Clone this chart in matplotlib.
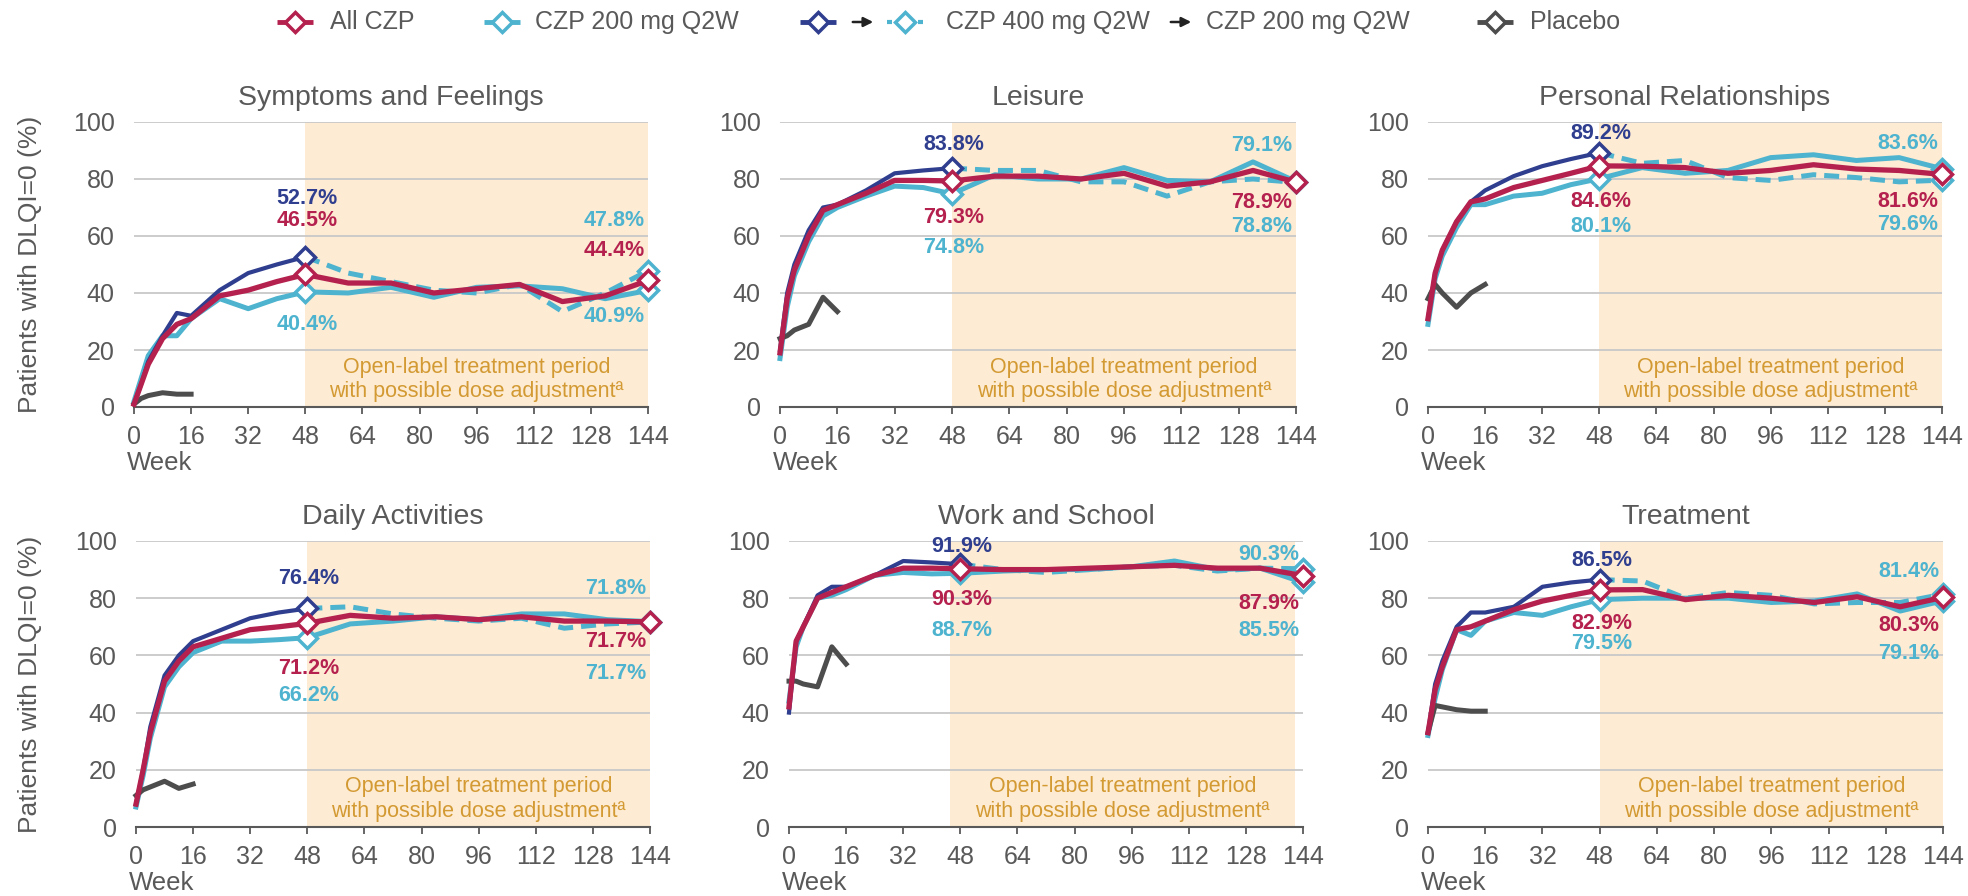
import matplotlib
matplotlib.use("Agg")
import matplotlib.pyplot as plt

plt.rcParams['font.family'] = ['Liberation Sans', 'DejaVu Sans']

# ---------------- data ----------------
db_weeks = [0, 2, 4, 8, 12, 16, 24, 32, 40, 48]
ol_weeks = [48, 60, 72, 84, 96, 108, 120, 132, 144]
pbo_weeks = [0, 2, 4, 8, 12, 16]
all_weeks = db_weeks + ol_weeks[1:]
xticks = [0, 16, 32, 48, 64, 80, 96, 112, 128, 144]
yticks = [0, 20, 40, 60, 80, 100]

titles = ["Symptoms and Feelings", "Leisure", "Personal Relationships",
          "Daily Activities", "Work and School", "Treatment"]

# Symptoms and Feelings
sf_all_czp = [1, 8, 15, 24, 29, 31, 39, 41, 44, 46.5, 43.5, 43.5, 40, 41.5, 43, 37, 39, 44.4]
sf_czp200 = [2, 10, 18, 25, 25, 31, 38, 34.5, 38, 40.4, 40, 42, 38.5, 42, 42.5, 41.5, 38, 40.9]
sf_czp400_db = [1, 8, 16, 25, 33, 32, 41, 47, 50, 52.7]
sf_czp400_ol = [52.7, 47, 44, 41, 40, 43, 33.5, 40, 47.8]
sf_placebo = [1, 3, 4, 5, 4.5, 4.5]

# Leisure
le_all_czp = [19, 38, 48, 60, 69, 71, 75, 79.5, 79.5, 79.3, 81, 81, 80, 82, 77.5, 79, 83, 78.9]
le_czp200 = [17, 35, 46, 58, 67, 70, 74, 77.5, 77, 74.8, 81.5, 80, 80, 84, 79.5, 79, 86, 79.1]
le_czp400_db = [20, 40, 50, 62, 70, 71, 76, 82, 83, 83.8]
le_czp400_ol = [83.8, 83, 83, 79, 79, 74, 79, 80, 78.8]
le_placebo = [24, 25, 27, 29, 38.5, 33.5]

# Personal Relationships
pr_all_czp = [31, 47, 55, 65, 72, 73, 77, 79.5, 82, 84.6, 84.5, 84, 82, 83, 85, 83.5, 83, 81.6]
pr_czp200 = [29, 45, 53, 63, 71, 71, 74, 75, 78, 80.1, 84, 82, 83, 87.5, 88.5, 86.5, 87.5, 83.6]
pr_czp400_db = [31, 47, 55, 65, 72, 76, 81, 84.5, 87, 89.2]
pr_czp400_ol = [89.2, 85.5, 86.5, 80.5, 79.5, 81.5, 80.5, 79, 79.6]
pr_placebo = [38, 43, 40, 35, 40, 43]

# Daily Activities
da_all_czp = [8, 20, 33, 51, 58, 63, 66, 69, 70, 71.2, 74, 73, 73.5, 72.5, 73.5, 72, 72, 71.7]
da_czp200 = [7, 18, 31, 49, 56, 61, 65, 65, 65.5, 66.2, 71, 72, 73.5, 72.5, 74.5, 74.5, 72.5, 71.8]
da_czp400_db = [8, 20, 35, 53, 60, 65, 69, 73, 75, 76.4]
da_czp400_ol = [76.4, 77, 74.5, 73, 72, 73, 69.5, 71, 71.7]
da_placebo = [11, 13, 14, 16, 13.5, 15]

# Work and School
ws_all_czp = [42, 65, 70, 80, 82, 84, 88, 90.5, 90.5, 90.3, 90, 90, 90.5, 91, 91.5, 90.5, 90.5, 87.9]
ws_czp200 = [44, 63, 70, 80, 81, 83, 88, 89, 88.5, 88.7, 89.5, 90, 90, 91, 93, 90, 90.5, 85.5]
ws_czp400_db = [40, 65, 70, 81, 84, 84, 88, 93, 92.5, 91.9]
ws_czp400_ol = [91.9, 90, 89, 90, 91, 91.5, 89.5, 90.5, 90.3]
ws_placebo = [51, 51, 50, 49, 63, 57]

# Treatment
tr_all_czp = [33, 48, 56, 69, 70, 72, 76, 79, 81, 82.9, 83, 79.5, 81, 80, 78.5, 80.5, 77, 80.3]
tr_czp200 = [32, 45, 55, 69, 67, 72, 75, 74, 77, 79.5, 80, 80, 80, 78.5, 79, 81.5, 75.5, 79.1]
tr_czp400_db = [33, 50, 58, 70, 75, 75, 77, 84, 85.5, 86.5]
tr_czp400_ol = [86.5, 86, 80, 82, 81, 78, 78.5, 78.5, 81.4]
tr_placebo = [33, 42.5, 42, 41, 40.5, 40.5]

panels = [
    (sf_all_czp, sf_czp200, sf_czp400_db, sf_czp400_ol, sf_placebo),
    (le_all_czp, le_czp200, le_czp400_db, le_czp400_ol, le_placebo),
    (pr_all_czp, pr_czp200, pr_czp400_db, pr_czp400_ol, pr_placebo),
    (da_all_czp, da_czp200, da_czp400_db, da_czp400_ol, da_placebo),
    (ws_all_czp, ws_czp200, ws_czp400_db, ws_czp400_ol, ws_placebo),
    (tr_all_czp, tr_czp200, tr_czp400_db, tr_czp400_ol, tr_placebo),
]

# ---------------- style / layout ----------------
RED = '#B5214E'
CYAN = '#4DB3CE'
NAVY = '#2F3E8E'
GRAY = '#4D4D4D'
SHADE = '#FDEBD3'
SHADE_TXT = '#D39A33'
TXT = '#595959'

W, H = 1968, 896
axes_px = [  # left(px of week 0), right(px of week 144), top(px of 100), bottom(px of 0)
    (134, 648, 122, 407), (780, 1296, 122, 407), (1428, 1942, 122, 407),
    (136, 650, 541, 827), (789, 1303, 541, 827), (1428, 1943, 541, 827),
]
shade_spans = [(48, 144), (48, 144), (48, 144), (48, 144), (45.2, 141.8), (48, 144)]

# label y positions (data units) for labels at week 48 and week 144
left_labels = [
    [('navy', 73), ('red', 65.5), ('cyan', 29)],
    [('navy', 92), ('red', 66.5), ('cyan', 56)],
    [('navy', 96), ('red', 72), ('cyan', 63.5)],
    [('navy', 86.8), ('red', 55.4), ('cyan', 46)],
    [('navy', 98), ('red', 79.5), ('cyan', 68.8)],
    [('navy', 93.2), ('red', 71.3), ('cyan', 64.3)],
]
right_labels = [
    [('dash', 65.6), ('red', 55), ('cyan', 31.6)],
    [('cyan', 91.7), ('red', 71.7), ('dash', 63.5)],
    [('cyan', 92.6), ('red', 72), ('dash', 64)],
    [('cyan', 83.3), ('red', 64.7), ('dash', 53.6)],
    [('dash', 95.3), ('red', 78.3), ('cyan', 68.8)],
    [('dash', 89.2), ('red', 70.5), ('cyan', 60.8)],
]

fig = plt.figure(figsize=(W / 100, H / 100), dpi=100)

i48 = all_weeks.index(48)
mk = dict(marker='D', markersize=10, markerfacecolor='white', markeredgewidth=2.5)

for k, (title, data, (l, r, t, b)) in enumerate(zip(titles, panels, axes_px)):
    red, cyan, navy, dash, pbo = data
    ax = fig.add_axes([l / W, 1 - b / H, (r - l) / W, (b - t) / H])
    ax.set_xlim(0, 144)
    ax.set_ylim(0, 100)
    s0, s1 = shade_spans[k]
    ax.axvspan(s0, s1, ymin=0, ymax=1, color=SHADE, zorder=0, lw=0)
    for yv in yticks[1:]:
        ax.axhline(yv, color='#C8C8C8', lw=1.3, zorder=1)
    ax.text((s0 + s1) / 2, 14, 'Open-label treatment period', ha='center', va='center',
            fontsize=15.5, color=SHADE_TXT, zorder=2)
    ax.text((s0 + s1) / 2, 5.5, 'with possible dose adjustment\u00aa', ha='center', va='center',
            fontsize=15.5, color=SHADE_TXT, zorder=2)

    ax.plot(all_weeks, cyan, color=CYAN, lw=3.6, zorder=3, clip_on=False,
            markevery=[i48, len(all_weeks) - 1], markeredgecolor=CYAN, **mk)
    ax.plot(ol_weeks, dash, color=CYAN, lw=3.6, ls=(0, (3, 1.6)), zorder=3.5, clip_on=False,
            markevery=[len(ol_weeks) - 1], markeredgecolor=CYAN, **mk)
    ax.plot(pbo_weeks, pbo, color=GRAY, lw=3.6, zorder=4, clip_on=False)
    ax.plot(db_weeks, navy, color=NAVY, lw=3.0, zorder=4, clip_on=False,
            markevery=[len(db_weeks) - 1], markeredgecolor=NAVY, **mk)
    ax.plot(all_weeks, red, color=RED, lw=3.8, zorder=5, clip_on=False,
            markevery=[i48, len(all_weeks) - 1], markeredgecolor=RED, **mk)

    cols = {'navy': NAVY, 'red': RED, 'cyan': CYAN, 'dash': CYAN}
    lvals = {'navy': navy[-1], 'red': red[i48], 'cyan': cyan[i48]}
    rvals = {'red': red[-1], 'cyan': cyan[-1], 'dash': dash[-1]}
    for key, yv in left_labels[k]:
        ax.text(48.5, yv, f"{lvals[key]:.1f}%", color=cols[key], fontsize=15.5,
                fontweight='bold', ha='center', va='center', zorder=6)
    for key, yv in right_labels[k]:
        ax.text(143, yv, f"{rvals[key]:.1f}%", color=cols[key], fontsize=15.5,
                fontweight='bold', ha='right', va='center', zorder=6)

    for sp in ['top', 'right', 'left']:
        ax.spines[sp].set_visible(False)
    ax.spines['bottom'].set_color(TXT)
    ax.spines['bottom'].set_linewidth(1.5)
    ax.spines['bottom'].set_zorder(2)
    ax.set_xticks(xticks)
    ax.set_yticks(yticks)
    ax.tick_params(axis='x', direction='out', length=5, width=1.3, color=TXT,
                   labelcolor=TXT, labelsize=18, pad=8)
    ax.tick_params(axis='y', length=0, labelcolor=TXT, labelsize=18, pad=14)
    ax.set_title(title, fontsize=20.5, color=TXT, pad=12)
    ax.annotate('Week', xy=(0, 0), xycoords=('data', 'axes fraction'),
                xytext=(-5, -32), textcoords='offset points', ha='left', va='top',
                fontsize=18.5, color=TXT)
    ax.set_facecolor('none')

# y-axis labels, one per row
for (t, b) in [(122, 407), (541, 827)]:
    fig.text(30 / W, 1 - (t + b) / 2 / H, 'Patients with DLQI=0 (%)', rotation=90,
             ha='center', va='center', fontsize=19, color=TXT)

# ---------------- legend ----------------
lg = fig.add_axes([0, 0, 1, 1])
lg.set_xlim(0, W)
lg.set_ylim(H, 0)
lg.axis('off')
LY = 22
lfs = 18


def leg_marker(x, color, dashed=False):
    if dashed:
        lg.plot([x - 18, x - 13], [LY, LY], color=color, lw=3, solid_capstyle='butt')
        lg.plot([x + 13, x + 18], [LY, LY], color=color, lw=3, solid_capstyle='butt')
    else:
        lg.plot([x - 18, x + 18], [LY, LY], color=color, lw=3.5, solid_capstyle='butt')
    lg.plot([x], [LY], marker='D', markersize=10, markerfacecolor='white',
            markeredgecolor=color, markeredgewidth=2.5)


def leg_arrow(x0, x1):
    lg.annotate('', xy=(x1, LY), xytext=(x0, LY),
                arrowprops=dict(arrowstyle='-|>', color='#222222', lw=1.8, mutation_scale=14))


leg_marker(295, RED)
lg.text(330, LY, 'All CZP', fontsize=lfs, color=TXT, va='center', ha='left')
leg_marker(502, CYAN)
lg.text(535, LY, 'CZP 200 mg Q2W', fontsize=lfs, color=TXT, va='center', ha='left')
leg_marker(818, NAVY)
leg_arrow(850, 876)
leg_marker(905, CYAN, dashed=True)
lg.text(946, LY, 'CZP 400 mg Q2W', fontsize=lfs, color=TXT, va='center', ha='left')
leg_arrow(1168, 1194)
lg.text(1206, LY, 'CZP 200 mg Q2W', fontsize=lfs, color=TXT, va='center', ha='left')
leg_marker(1495, GRAY)
lg.text(1530, LY, 'Placebo', fontsize=lfs, color=TXT, va='center', ha='left')

fig.savefig('out.png', dpi=100, facecolor='white')
